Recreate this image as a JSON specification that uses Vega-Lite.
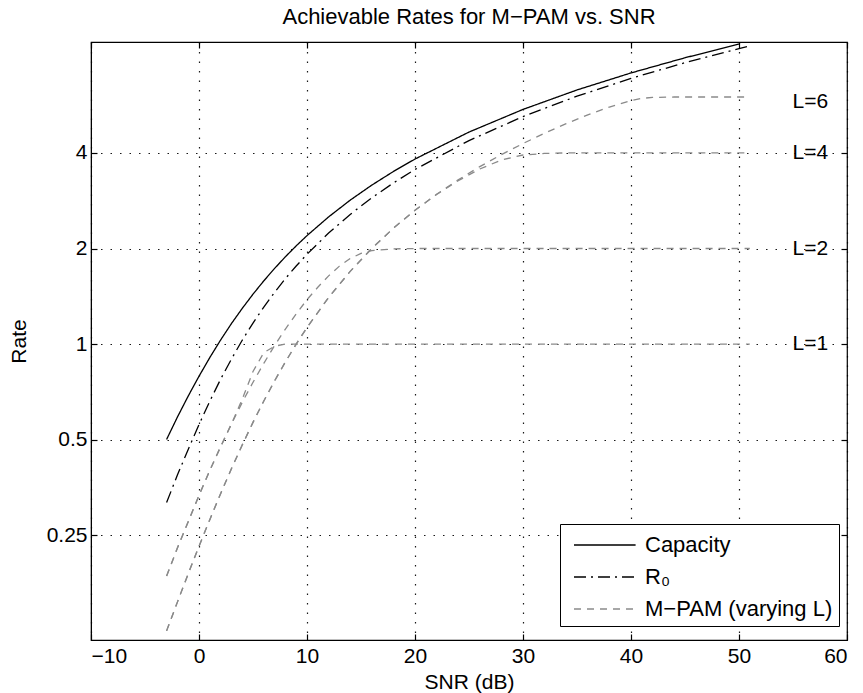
{
  "$schema": "https://vega.github.io/schema/vega-lite/v6.json",
  "width": 756,
  "height": 598,
  "autosize": {"type": "none"},
  "padding": {"left": 91, "top": 42, "right": 16, "bottom": 53},
  "background": "white",
  "title": {"text": "Achievable Rates for M\u2212PAM vs. SNR", "font": "Liberation Sans", "fontSize": 22, "fontWeight": "normal", "color": "black", "offset": 12},
  "config": {
    "view": {"stroke": "black", "strokeWidth": 1.2},
    "font": "Liberation Sans",
    "axis": {"labelFont": "Liberation Sans", "titleFont": "Liberation Sans", "labelFontSize": 21, "titleFontSize": 21, "titleFontWeight": "normal", "labelColor": "black", "titleColor": "black", "domainColor": "black", "tickColor": "black", "gridColor": "black", "gridDash": [1.5, 8], "gridOpacity": 0.9, "gridWidth": 1.2, "tickSize": -6, "tickWidth": 1.2},
    "legend": {"orient": "none", "legendX": 469, "legendY": 482, "title": null, "symbolType": "M-0.5,0H3.9", "symbolSize": 784, "symbolStrokeWidth": 1.3, "symbolFillColor": "transparent", "labelFont": "Liberation Sans", "labelFontSize": 22, "labelColor": "black", "labelLimit": 400, "strokeColor": "black", "fillColor": "white", "padding": 6, "rowPadding": 6, "labelOffset": 49}
  },
  "datasets": {
    "curves": [
      {"x": -3, "rate": 0.501, "curve": "C", "series": "Capacity"},
      {"x": -2, "rate": 0.589, "curve": "C", "series": "Capacity"},
      {"x": -1, "rate": 0.686, "curve": "C", "series": "Capacity"},
      {"x": 0, "rate": 0.792, "curve": "C", "series": "Capacity"},
      {"x": 1, "rate": 0.907, "curve": "C", "series": "Capacity"},
      {"x": 2, "rate": 1.030, "curve": "C", "series": "Capacity"},
      {"x": 3, "rate": 1.160, "curve": "C", "series": "Capacity"},
      {"x": 4, "rate": 1.295, "curve": "C", "series": "Capacity"},
      {"x": 5, "rate": 1.436, "curve": "C", "series": "Capacity"},
      {"x": 6, "rate": 1.582, "curve": "C", "series": "Capacity"},
      {"x": 7, "rate": 1.731, "curve": "C", "series": "Capacity"},
      {"x": 8, "rate": 1.884, "curve": "C", "series": "Capacity"},
      {"x": 9, "rate": 2.039, "curve": "C", "series": "Capacity"},
      {"x": 10, "rate": 2.196, "curve": "C", "series": "Capacity"},
      {"x": 12, "rate": 2.515, "curve": "C", "series": "Capacity"},
      {"x": 14, "rate": 2.840, "curve": "C", "series": "Capacity"},
      {"x": 16, "rate": 3.167, "curve": "C", "series": "Capacity"},
      {"x": 18, "rate": 3.496, "curve": "C", "series": "Capacity"},
      {"x": 20, "rate": 3.826, "curve": "C", "series": "Capacity"},
      {"x": 25, "rate": 4.653, "curve": "C", "series": "Capacity"},
      {"x": 30, "rate": 5.483, "curve": "C", "series": "Capacity"},
      {"x": 35, "rate": 6.314, "curve": "C", "series": "Capacity"},
      {"x": 40, "rate": 7.144, "curve": "C", "series": "Capacity"},
      {"x": 45, "rate": 7.974, "curve": "C", "series": "Capacity"},
      {"x": 50, "rate": 8.805, "curve": "C", "series": "Capacity"},

      {"x": -3, "rate": 0.317, "curve": "R0", "series": "R\u2080"},
      {"x": -2, "rate": 0.387, "curve": "R0", "series": "R\u2080"},
      {"x": -1, "rate": 0.466, "curve": "R0", "series": "R\u2080"},
      {"x": 0, "rate": 0.558, "curve": "R0", "series": "R\u2080"},
      {"x": 1, "rate": 0.661, "curve": "R0", "series": "R\u2080"},
      {"x": 2, "rate": 0.775, "curve": "R0", "series": "R\u2080"},
      {"x": 3, "rate": 0.897, "curve": "R0", "series": "R\u2080"},
      {"x": 4, "rate": 1.028, "curve": "R0", "series": "R\u2080"},
      {"x": 5, "rate": 1.165, "curve": "R0", "series": "R\u2080"},
      {"x": 6, "rate": 1.308, "curve": "R0", "series": "R\u2080"},
      {"x": 7, "rate": 1.456, "curve": "R0", "series": "R\u2080"},
      {"x": 8, "rate": 1.608, "curve": "R0", "series": "R\u2080"},
      {"x": 9, "rate": 1.762, "curve": "R0", "series": "R\u2080"},
      {"x": 10, "rate": 1.918, "curve": "R0", "series": "R\u2080"},
      {"x": 12, "rate": 2.237, "curve": "R0", "series": "R\u2080"},
      {"x": 14, "rate": 2.561, "curve": "R0", "series": "R\u2080"},
      {"x": 16, "rate": 2.888, "curve": "R0", "series": "R\u2080"},
      {"x": 18, "rate": 3.217, "curve": "R0", "series": "R\u2080"},
      {"x": 20, "rate": 3.547, "curve": "R0", "series": "R\u2080"},
      {"x": 25, "rate": 4.375, "curve": "R0", "series": "R\u2080"},
      {"x": 30, "rate": 5.204, "curve": "R0", "series": "R\u2080"},
      {"x": 35, "rate": 6.035, "curve": "R0", "series": "R\u2080"},
      {"x": 40, "rate": 6.865, "curve": "R0", "series": "R\u2080"},
      {"x": 45, "rate": 7.695, "curve": "R0", "series": "R\u2080"},
      {"x": 50, "rate": 8.526, "curve": "R0", "series": "R\u2080"},
      {"x": 51, "rate": 8.692, "curve": "R0", "series": "R\u2080"},

      {"x": -3, "rate": 0.186, "curve": "L1", "series": "M\u2212PAM (varying L)"},
      {"x": -2, "rate": 0.228, "curve": "L1", "series": "M\u2212PAM (varying L)"},
      {"x": -1, "rate": 0.276, "curve": "L1", "series": "M\u2212PAM (varying L)"},
      {"x": 0, "rate": 0.334, "curve": "L1", "series": "M\u2212PAM (varying L)"},
      {"x": 1, "rate": 0.400, "curve": "L1", "series": "M\u2212PAM (varying L)"},
      {"x": 2, "rate": 0.475, "curve": "L1", "series": "M\u2212PAM (varying L)"},
      {"x": 3, "rate": 0.560, "curve": "L1", "series": "M\u2212PAM (varying L)"},
      {"x": 4, "rate": 0.670, "curve": "L1", "series": "M\u2212PAM (varying L)"},
      {"x": 5, "rate": 0.820, "curve": "L1", "series": "M\u2212PAM (varying L)"},
      {"x": 6, "rate": 0.940, "curve": "L1", "series": "M\u2212PAM (varying L)"},
      {"x": 7, "rate": 0.985, "curve": "L1", "series": "M\u2212PAM (varying L)"},
      {"x": 8, "rate": 1.0, "curve": "L1", "series": "M\u2212PAM (varying L)"},
      {"x": 51, "rate": 1.0, "curve": "L1", "series": "M\u2212PAM (varying L)"},

      {"x": -3, "rate": 0.186, "curve": "L2", "series": "M\u2212PAM (varying L)"},
      {"x": -2, "rate": 0.228, "curve": "L2", "series": "M\u2212PAM (varying L)"},
      {"x": -1, "rate": 0.276, "curve": "L2", "series": "M\u2212PAM (varying L)"},
      {"x": 0, "rate": 0.334, "curve": "L2", "series": "M\u2212PAM (varying L)"},
      {"x": 1, "rate": 0.400, "curve": "L2", "series": "M\u2212PAM (varying L)"},
      {"x": 2, "rate": 0.475, "curve": "L2", "series": "M\u2212PAM (varying L)"},
      {"x": 3, "rate": 0.560, "curve": "L2", "series": "M\u2212PAM (varying L)"},
      {"x": 4, "rate": 0.655, "curve": "L2", "series": "M\u2212PAM (varying L)"},
      {"x": 5, "rate": 0.758, "curve": "L2", "series": "M\u2212PAM (varying L)"},
      {"x": 6, "rate": 0.870, "curve": "L2", "series": "M\u2212PAM (varying L)"},
      {"x": 7, "rate": 0.990, "curve": "L2", "series": "M\u2212PAM (varying L)"},
      {"x": 8, "rate": 1.115, "curve": "L2", "series": "M\u2212PAM (varying L)"},
      {"x": 9, "rate": 1.245, "curve": "L2", "series": "M\u2212PAM (varying L)"},
      {"x": 10, "rate": 1.380, "curve": "L2", "series": "M\u2212PAM (varying L)"},
      {"x": 11, "rate": 1.510, "curve": "L2", "series": "M\u2212PAM (varying L)"},
      {"x": 12, "rate": 1.640, "curve": "L2", "series": "M\u2212PAM (varying L)"},
      {"x": 13, "rate": 1.760, "curve": "L2", "series": "M\u2212PAM (varying L)"},
      {"x": 14, "rate": 1.860, "curve": "L2", "series": "M\u2212PAM (varying L)"},
      {"x": 15, "rate": 1.930, "curve": "L2", "series": "M\u2212PAM (varying L)"},
      {"x": 16, "rate": 1.970, "curve": "L2", "series": "M\u2212PAM (varying L)"},
      {"x": 18, "rate": 1.995, "curve": "L2", "series": "M\u2212PAM (varying L)"},
      {"x": 20, "rate": 2.0, "curve": "L2", "series": "M\u2212PAM (varying L)"},
      {"x": 51, "rate": 2.0, "curve": "L2", "series": "M\u2212PAM (varying L)"},

      {"x": -3, "rate": 0.125, "curve": "L4", "series": "M\u2212PAM (varying L)"},
      {"x": -2, "rate": 0.154, "curve": "L4", "series": "M\u2212PAM (varying L)"},
      {"x": -1, "rate": 0.189, "curve": "L4", "series": "M\u2212PAM (varying L)"},
      {"x": 0, "rate": 0.231, "curve": "L4", "series": "M\u2212PAM (varying L)"},
      {"x": 1, "rate": 0.280, "curve": "L4", "series": "M\u2212PAM (varying L)"},
      {"x": 2, "rate": 0.338, "curve": "L4", "series": "M\u2212PAM (varying L)"},
      {"x": 3, "rate": 0.405, "curve": "L4", "series": "M\u2212PAM (varying L)"},
      {"x": 4, "rate": 0.481, "curve": "L4", "series": "M\u2212PAM (varying L)"},
      {"x": 5, "rate": 0.567, "curve": "L4", "series": "M\u2212PAM (varying L)"},
      {"x": 6, "rate": 0.662, "curve": "L4", "series": "M\u2212PAM (varying L)"},
      {"x": 7, "rate": 0.766, "curve": "L4", "series": "M\u2212PAM (varying L)"},
      {"x": 8, "rate": 0.879, "curve": "L4", "series": "M\u2212PAM (varying L)"},
      {"x": 9, "rate": 1.000, "curve": "L4", "series": "M\u2212PAM (varying L)"},
      {"x": 10, "rate": 1.128, "curve": "L4", "series": "M\u2212PAM (varying L)"},
      {"x": 12, "rate": 1.402, "curve": "L4", "series": "M\u2212PAM (varying L)"},
      {"x": 14, "rate": 1.695, "curve": "L4", "series": "M\u2212PAM (varying L)"},
      {"x": 16, "rate": 2.000, "curve": "L4", "series": "M\u2212PAM (varying L)"},
      {"x": 18, "rate": 2.317, "curve": "L4", "series": "M\u2212PAM (varying L)"},
      {"x": 20, "rate": 2.638, "curve": "L4", "series": "M\u2212PAM (varying L)"},
      {"x": 22, "rate": 2.960, "curve": "L4", "series": "M\u2212PAM (varying L)"},
      {"x": 24, "rate": 3.270, "curve": "L4", "series": "M\u2212PAM (varying L)"},
      {"x": 26, "rate": 3.560, "curve": "L4", "series": "M\u2212PAM (varying L)"},
      {"x": 28, "rate": 3.800, "curve": "L4", "series": "M\u2212PAM (varying L)"},
      {"x": 30, "rate": 3.940, "curve": "L4", "series": "M\u2212PAM (varying L)"},
      {"x": 32, "rate": 3.985, "curve": "L4", "series": "M\u2212PAM (varying L)"},
      {"x": 34, "rate": 4.0, "curve": "L4", "series": "M\u2212PAM (varying L)"},
      {"x": 51, "rate": 4.0, "curve": "L4", "series": "M\u2212PAM (varying L)"},

      {"x": -3, "rate": 0.125, "curve": "L6", "series": "M\u2212PAM (varying L)"},
      {"x": -2, "rate": 0.154, "curve": "L6", "series": "M\u2212PAM (varying L)"},
      {"x": -1, "rate": 0.189, "curve": "L6", "series": "M\u2212PAM (varying L)"},
      {"x": 0, "rate": 0.231, "curve": "L6", "series": "M\u2212PAM (varying L)"},
      {"x": 1, "rate": 0.280, "curve": "L6", "series": "M\u2212PAM (varying L)"},
      {"x": 2, "rate": 0.338, "curve": "L6", "series": "M\u2212PAM (varying L)"},
      {"x": 3, "rate": 0.405, "curve": "L6", "series": "M\u2212PAM (varying L)"},
      {"x": 4, "rate": 0.481, "curve": "L6", "series": "M\u2212PAM (varying L)"},
      {"x": 5, "rate": 0.567, "curve": "L6", "series": "M\u2212PAM (varying L)"},
      {"x": 6, "rate": 0.662, "curve": "L6", "series": "M\u2212PAM (varying L)"},
      {"x": 7, "rate": 0.766, "curve": "L6", "series": "M\u2212PAM (varying L)"},
      {"x": 8, "rate": 0.879, "curve": "L6", "series": "M\u2212PAM (varying L)"},
      {"x": 9, "rate": 1.000, "curve": "L6", "series": "M\u2212PAM (varying L)"},
      {"x": 10, "rate": 1.128, "curve": "L6", "series": "M\u2212PAM (varying L)"},
      {"x": 12, "rate": 1.402, "curve": "L6", "series": "M\u2212PAM (varying L)"},
      {"x": 14, "rate": 1.695, "curve": "L6", "series": "M\u2212PAM (varying L)"},
      {"x": 16, "rate": 2.001, "curve": "L6", "series": "M\u2212PAM (varying L)"},
      {"x": 18, "rate": 2.317, "curve": "L6", "series": "M\u2212PAM (varying L)"},
      {"x": 20, "rate": 2.638, "curve": "L6", "series": "M\u2212PAM (varying L)"},
      {"x": 22, "rate": 2.963, "curve": "L6", "series": "M\u2212PAM (varying L)"},
      {"x": 24, "rate": 3.291, "curve": "L6", "series": "M\u2212PAM (varying L)"},
      {"x": 26, "rate": 3.621, "curve": "L6", "series": "M\u2212PAM (varying L)"},
      {"x": 28, "rate": 3.951, "curve": "L6", "series": "M\u2212PAM (varying L)"},
      {"x": 30, "rate": 4.282, "curve": "L6", "series": "M\u2212PAM (varying L)"},
      {"x": 32, "rate": 4.613, "curve": "L6", "series": "M\u2212PAM (varying L)"},
      {"x": 34, "rate": 4.945, "curve": "L6", "series": "M\u2212PAM (varying L)"},
      {"x": 36, "rate": 5.270, "curve": "L6", "series": "M\u2212PAM (varying L)"},
      {"x": 38, "rate": 5.580, "curve": "L6", "series": "M\u2212PAM (varying L)"},
      {"x": 40, "rate": 5.840, "curve": "L6", "series": "M\u2212PAM (varying L)"},
      {"x": 41, "rate": 5.940, "curve": "L6", "series": "M\u2212PAM (varying L)"},
      {"x": 42, "rate": 5.980, "curve": "L6", "series": "M\u2212PAM (varying L)"},
      {"x": 44, "rate": 6.0, "curve": "L6", "series": "M\u2212PAM (varying L)"},
      {"x": 51, "rate": 6.0, "curve": "L6", "series": "M\u2212PAM (varying L)"}
    ],
    "labels": [
      {"x": 56.6, "rate": 5.8, "label": "L=6"},
      {"x": 56.6, "rate": 4, "label": "L=4"},
      {"x": 56.6, "rate": 2, "label": "L=2"},
      {"x": 56.6, "rate": 1, "label": "L=1"}
    ]
  },
  "layer": [
    {
      "data": {"name": "curves"},
      "mark": {"type": "line", "clip": true, "strokeWidth": 1.3},
      "encoding": {
        "x": {"field": "x", "type": "quantitative", "scale": {"domain": [-10, 60], "nice": false, "zero": false},
              "axis": {"orient": "bottom", "values": [-10, 0, 10, 20, 30, 40, 50, 60], "title": "SNR (dB)", "grid": true, "labelPadding": 11, "titlePadding": 5}},
        "y": {"field": "rate", "type": "quantitative", "scale": {"type": "log", "base": 2, "domain": [0.117, 8.94], "nice": false, "zero": false},
              "axis": {"orient": "left", "values": [0.25, 0.5, 1, 2, 4], "labelExpr": "format(datum.value, '~g')", "title": "Rate", "grid": true, "labelPadding": 10, "titlePadding": 17}},
        "detail": {"field": "curve"},
        "color": {"field": "series", "type": "nominal", "scale": {"domain": ["Capacity", "R\u2080", "M\u2212PAM (varying L)"], "range": ["#000000", "#000000", "#8a8a8a"]}},
        "strokeDash": {"field": "series", "type": "nominal", "scale": {"domain": ["Capacity", "R\u2080", "M\u2212PAM (varying L)"], "range": [[1, 0], [12, 5, 2, 5], [7, 6]]}}
      }
    },
    {
      "data": {"name": "labels"},
      "mark": {"type": "text", "fontSize": 21, "font": "Liberation Sans", "color": "black", "align": "center", "baseline": "middle"},
      "encoding": {
        "x": {"field": "x", "type": "quantitative", "axis": {"orient": "top", "values": [-10, 0, 10, 20, 30, 40, 50, 60], "labels": false, "grid": false, "domain": false, "title": null}},
        "y": {"field": "rate", "type": "quantitative", "axis": {"orient": "right", "values": [0.25, 0.5, 1, 2, 4], "labels": false, "grid": false, "domain": false, "title": null}},
        "text": {"field": "label"}
      }
    }
  ],
  "resolve": {"axis": {"x": "independent", "y": "independent"}}
}
